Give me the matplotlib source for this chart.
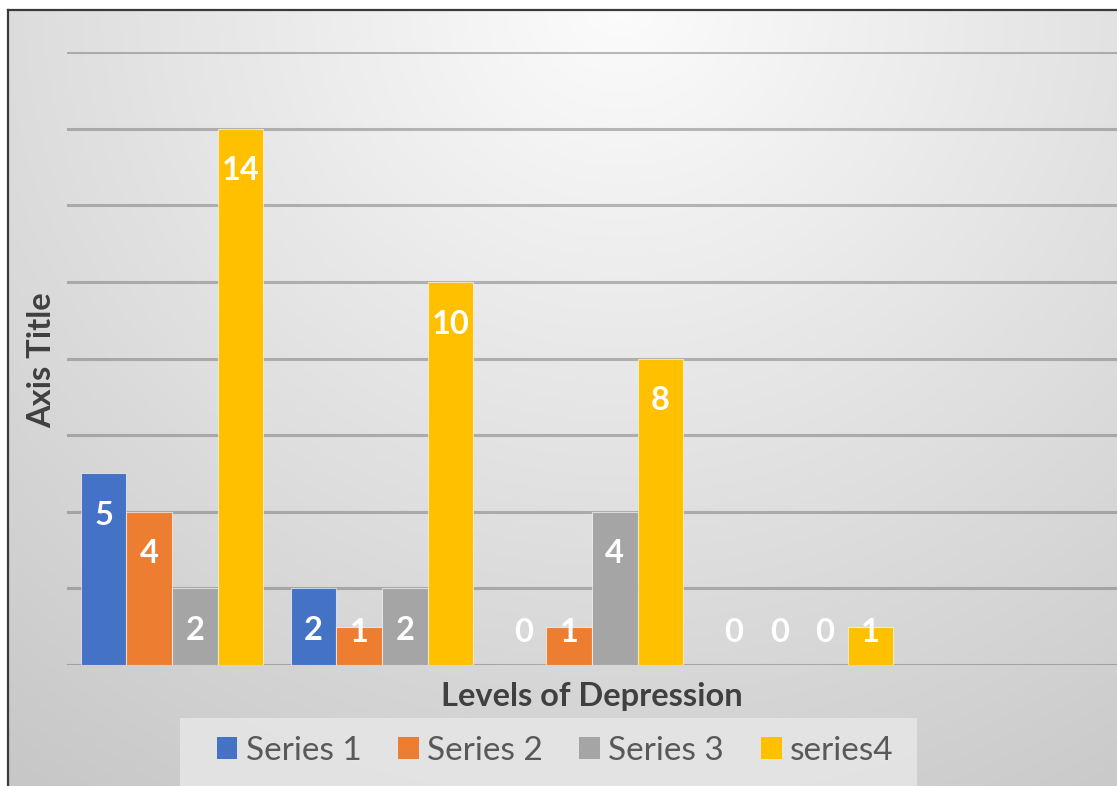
import numpy as np
import matplotlib
matplotlib.use("Agg")
import matplotlib.pyplot as plt
from matplotlib.patches import Rectangle

# ---- data ----
categories = ["1", "2", "3", "4", "5"]
series_names = ["Series 1", "Series 2", "Series 3", "series4"]
series1 = [5, 2, 0, 0, None]
series2 = [4, 1, 1, 0, None]
series3 = [2, 2, 4, 0, None]
series4 = [14, 10, 8, 1, None]
colors = ["#4472C4", "#ED7D31", "#A5A5A5", "#FFC000"]

W, H = 1117, 786
fig = plt.figure(figsize=(W / 100, H / 100), dpi=100)
fig.patch.set_facecolor("white")

# ---- gradient background ----
bg = fig.add_axes([0, 0, 1, 1], zorder=0)
yy, xx = np.mgrid[0:H, 0:W]
d = np.sqrt(((xx - 620) / 1.0) ** 2 + ((yy - 0) / 0.95) ** 2)
v = np.clip(252 - 0.052 * d, 190, 255) / 255.0
img = np.dstack([v, v, v])
img[:9, :, :] = 1.0
img[:, :7, :] = 1.0
bg.imshow(img, extent=[0, W, H, 0], aspect="auto", interpolation="bilinear")
bg.plot([7.5, 7.5], [9.5, H], color="#3a3a3a", lw=1.6)
bg.plot([7.5, W], [9.5, 9.5], color="#3a3a3a", lw=1.6)
# legend box
bg.add_patch(Rectangle((180, 718), 737, 70, facecolor="#e8e8e8", edgecolor="none", alpha=0.8))
bg.set_xlim(0, W)
bg.set_ylim(H, 0)
bg.axis("off")

# ---- main axes ----
left, right = 67 / W, 1.0
bottom, top = (H - 665) / H, (H - 52) / H
ax = fig.add_axes([left, bottom, right - left, top - bottom], zorder=1)
ax.patch.set_alpha(0)

x = np.arange(len(categories))
bw = 0.217
offsets = (np.arange(4) - 1.5) * bw
all_series = [series1, series2, series3, series4]
for i, (vals, c) in enumerate(zip(all_series, colors)):
    xs = [xi + offsets[i] for xi, val in zip(x, vals) if val is not None]
    hs = [val for val in vals if val is not None]
    ax.bar(xs, hs, width=bw, color=c, edgecolor=(1, 1, 1, 0.6), linewidth=0.8, zorder=3)
    for xi, val in zip(xs, hs):
        ly = max(val - 1.1, 0.85)
        ax.text(xi, ly, str(val), ha="center", va="center", color="white",
                fontsize=23.5, fontweight="bold", family="Lato", zorder=4)

ax.set_xlim(-0.5, 4.5)
ax.set_ylim(0, 16)
ax.set_yticks(np.arange(0, 17, 2))
ax.yaxis.grid(True, color="#6a6a6a", alpha=0.45, linewidth=2.2, zorder=1)
ax.set_axisbelow(True)
ax.tick_params(left=False, bottom=False, labelleft=False, labelbottom=False)
for s in ax.spines.values():
    s.set_visible(False)

ax.set_xlabel("Levels of Depression", fontsize=23.5, fontweight="bold", family="Lato",
              color="#404040", labelpad=12)
fig.text(42 / W, 1 - 360 / H, "Axis Title", rotation=90, ha="center", va="center",
         fontsize=23.5, fontweight="bold", family="Lato", color="#404040")

# ---- legend ----
handles = [Rectangle((0, 0), 1, 1, facecolor=c, edgecolor="none") for c in colors]
leg = fig.legend(handles, series_names, loc="center", bbox_to_anchor=(555 / W, 1 - 751 / H),
                 ncol=4, frameon=False, prop={"family": "Lato", "size": 24},
                 handlelength=0.62, handleheight=0.62, handletextpad=0.25, columnspacing=1.1,
                 borderpad=0.3)
for t in leg.get_texts():
    t.set_color("#595959")

fig.savefig("out.png", dpi=100)
